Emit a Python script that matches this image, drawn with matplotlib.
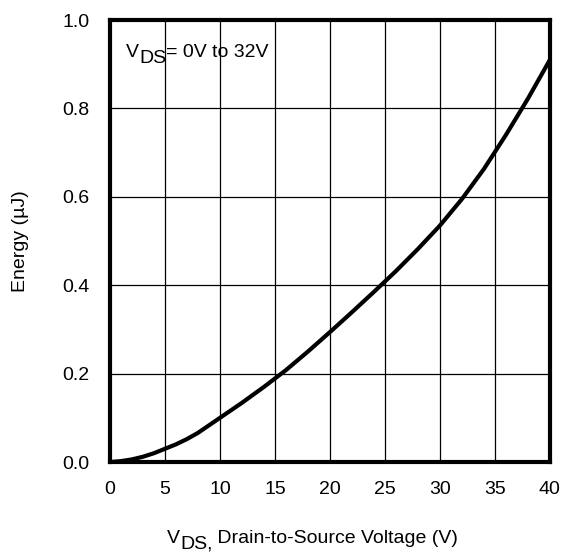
import matplotlib; matplotlib.use('Agg')
import matplotlib.pyplot as plt
from matplotlib.transforms import offset_copy

plt.rcParams['font.family'] = ['Liberation Sans', 'DejaVu Sans']

# 数据
vds = [0, 1, 2, 3, 4, 5, 6, 7, 8, 9, 10, 12, 14, 16, 18, 20, 22, 24, 26, 28, 30, 32, 34, 36, 38, 40]
energy = [0.0, 0.002, 0.006, 0.012, 0.02, 0.03, 0.04, 0.052, 0.066, 0.083, 0.1, 0.134, 0.17, 0.208, 0.25, 0.294,
          0.339, 0.385, 0.432, 0.482, 0.535, 0.595, 0.663, 0.74, 0.822, 0.91]
xticks = [0, 5, 10, 15, 20, 25, 30, 35, 40]
yticks = [0.0, 0.2, 0.4, 0.6, 0.8, 1.0]

FS = 14

fig = plt.figure(figsize=(5.64, 5.56), dpi=100)
ax = fig.add_axes([0.195, 0.169, 0.78, 0.795])

ax.plot(vds, energy, color='black', linewidth=3, solid_capstyle='butt')

ax.set_xlim(0, 40)
ax.set_ylim(0, 1.0)
ax.set_xticks(xticks)
ax.set_yticks(yticks)
ax.set_yticklabels([f'{v:.1f}' for v in yticks])
ax.tick_params(length=0, labelsize=FS)
ax.tick_params(axis='x', pad=14)
ax.tick_params(axis='y', pad=15)
ax.grid(True, color='black', linewidth=0.9)
ax.set_axisbelow(True)
for s in ax.spines.values():
    s.set_linewidth(3)

ax.set_ylabel('Energy (µJ)', fontsize=FS, labelpad=24)


def sub_text(x, y, parts, trans):
    """parts: [(文字, 是否下标)]，依次排开"""
    renderer = fig.canvas.get_renderer()
    t = trans
    for s, is_sub in parts:
        dy = -4 if is_sub else 0
        tt = fig.text(x, y, s, fontsize=FS, va='baseline', ha='left',
                      transform=offset_copy(t, fig=fig, x=0, y=dy, units='points'))
        w = tt.get_window_extent(renderer).width
        t = offset_copy(t, fig=fig, x=w * 72 / fig.dpi, y=0, units='points')


fig.canvas.draw()
sub_text(126 / 564, 1 - 57 / 556, [('V', False), ('DS', True), ('= 0V to 32V', False)], fig.transFigure)
sub_text(167 / 564, 1 - 543 / 556, [('V', False), ('DS,', True), (' Drain-to-Source Voltage (V)', False)],
         fig.transFigure)

plt.savefig('out.png', dpi=100)
plt.close()
